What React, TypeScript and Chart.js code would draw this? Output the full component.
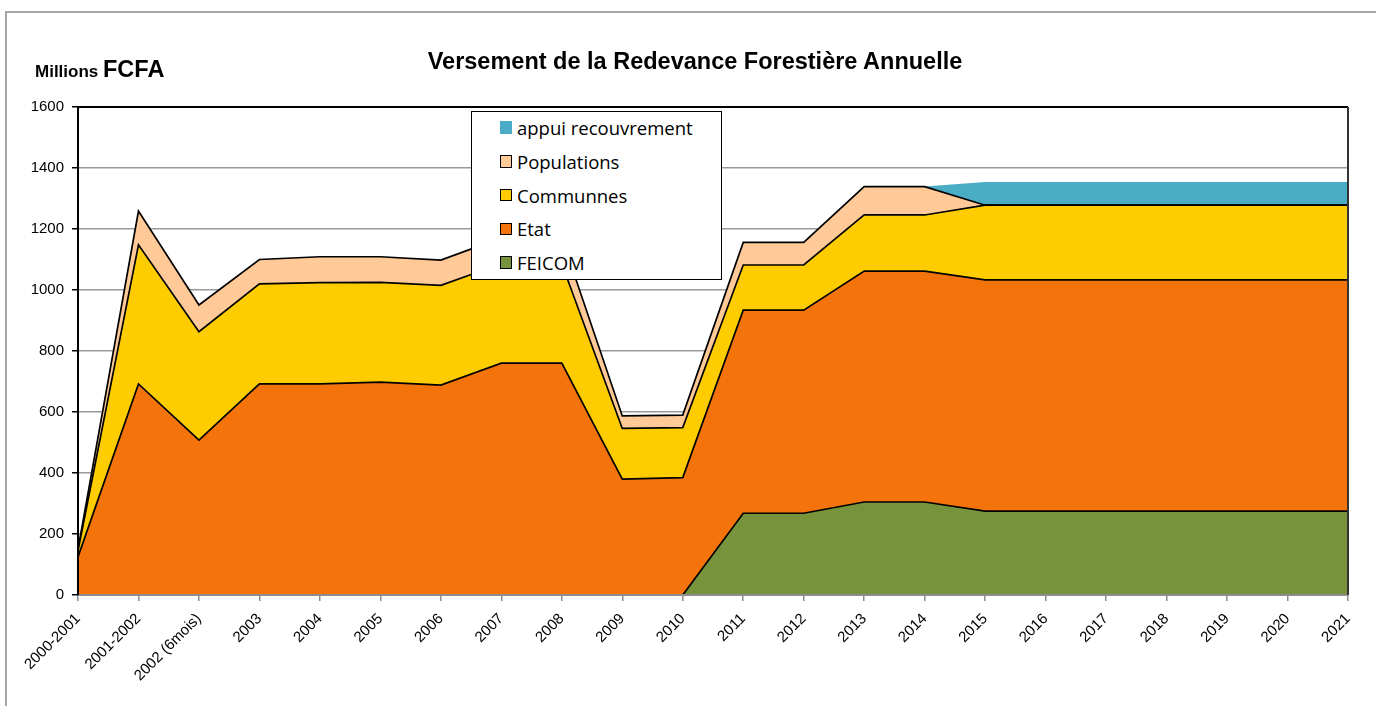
import React, { useEffect, useRef } from "react";
import { Chart, registerables } from "chart.js";

Chart.register(...registerables);

const categories = [
  "2000-2001", "2001-2002", "2002 (6mois)", "2003", "2004", "2005", "2006", "2007", "2008",
  "2009", "2010", "2011", "2012", "2013", "2014", "2015", "2016", "2017", "2018", "2019", "2020", "2021",
];

const feicom = [0, 0, 0, 0, 0, 0, 0, 0, 0, 0, 0, 268, 268, 305, 305, 275, 275, 275, 275, 275, 275, 275];
const etat = [125, 692, 508, 692, 692, 698, 688, 760, 760, 380, 385, 666, 666, 757, 757, 758, 758, 758, 758, 758, 758, 758];
const communnes = [20, 456, 355, 328, 332, 327, 327, 326, 326, 166, 164, 148, 148, 184, 184, 245, 245, 245, 245, 245, 245, 245];
const populations = [5, 111, 88, 80, 85, 84, 83, 85, 85, 41, 41, 74, 74, 93, 93, 0, 0, 0, 0, 0, 0, 0];
const appuiRecouvrement = [0, 0, 0, 0, 0, 0, 0, 0, 0, 0, 0, 0, 0, 0, 0, 76, 76, 76, 76, 76, 76, 76];

const yTicks = [0, 200, 400, 600, 800, 1000, 1200, 1400, 1600];

const seriesNames = ["FEICOM", "Etat", "Communnes", "Populations", "appui recouvrement"];
const seriesColors = ["#77933C", "#F4730B", "#FFCC00", "#FFCA97", "#4BACC6"];
const seriesData = [feicom, etat, communnes, populations, appuiRecouvrement];

const titleText = "Versement de la Redevance Forestière Annuelle";

export default function App() {
  const canvasRef = useRef<HTMLCanvasElement>(null);

  useEffect(() => {
    document.body.style.margin = "0";
    document.body.style.overflow = "hidden";
    const frame = {
      id: "plotFrame",
      afterDatasetsDraw(chart: any) {
        const { ctx, chartArea } = chart;
        ctx.save();
        ctx.strokeStyle = "#8c8c8c";
        ctx.lineWidth = 2;
        ctx.beginPath();
        ctx.moveTo(chartArea.left, chartArea.bottom);
        ctx.lineTo(chartArea.right, chartArea.bottom);
        ctx.stroke();
        ctx.strokeStyle = "#000";
        ctx.beginPath();
        ctx.moveTo(chartArea.left, chartArea.bottom);
        ctx.lineTo(chartArea.left, chartArea.top);
        ctx.lineTo(chartArea.right, chartArea.top);
        ctx.stroke();
        ctx.strokeStyle = "#333";
        ctx.beginPath();
        ctx.moveTo(chartArea.right, chartArea.top);
        ctx.lineTo(chartArea.right, chartArea.bottom);
        ctx.stroke();
        ctx.restore();
      },
    };

    const datasets = seriesData.map((d, i) => ({
      label: seriesNames[i],
      data: d,
      backgroundColor: seriesColors[i],
      borderColor: i === 4 ? seriesColors[i] : "#000",
      borderWidth: i === 4 ? 0 : 1.7,
      fill: i === 0 ? "origin" : "-1",
      pointRadius: 0,
      tension: 0,
    }));

    const chart = new Chart(canvasRef.current as HTMLCanvasElement, {
      type: "line",
      data: { labels: categories, datasets },
      options: {
        responsive: false,
        animation: false,
        devicePixelRatio: 1,
        layout: { padding: { left: 8, right: 28, top: 107, bottom: 11 } },
        plugins: { legend: { display: false }, tooltip: { enabled: false }, title: { display: false } },
        scales: {
          x: {
            grid: { drawOnChartArea: false, drawTicks: true, tickLength: 6, color: "#8c8c8c", lineWidth: 1.5 },
            border: { color: "#8c8c8c", width: 2 },
            ticks: {
              autoSkip: false,
              maxRotation: 45,
              minRotation: 45,
              color: "#000",
              font: { family: "Liberation Sans", size: 15 },
              padding: 9,
            },
            afterFit: (s: any) => {
              s.height = 100;
            },
          },
          y: {
            stacked: true,
            min: 0,
            max: 1600,
            afterBuildTicks: (s: any) => {
              s.ticks = yTicks.map((v) => ({ value: v }));
            },
            grid: { color: "#9a9a9a", lineWidth: 1.5, tickColor: "#000", tickLength: 6 },
            border: { color: "#000", width: 2 },
            ticks: {
              color: "#000",
              font: { family: "Liberation Sans", size: 15 },
              padding: 8,
              callback: (v: any) => String(v),
            },
            afterFit: (s: any) => {
              s.width = 70;
            },
          },
        },
      },
      plugins: [frame],
    });
    return () => chart.destroy();
  }, []);

  const legendOrder = [4, 3, 2, 1, 0];

  return (
    <div style={{ position: "relative", width: 1376, height: 706, overflow: "hidden", background: "#fff" }}>
      <div
        style={{
          position: "absolute",
          left: 5,
          top: 11,
          width: 1420,
          height: 740,
          border: "2px solid #a6a6a6",
          boxSizing: "border-box",
        }}
      />
      <canvas ref={canvasRef} width={1376} height={706} style={{ position: "absolute", left: 0, top: 0 }} />
      <div
        style={{
          position: "absolute",
          left: 695,
          top: 47,
          transform: "translateX(-50%)",
          whiteSpace: "nowrap",
          fontFamily: "Liberation Sans",
          fontWeight: "bold",
          fontSize: 23.5,
          lineHeight: "28px",
          color: "#000",
        }}
      >
        {titleText}
      </div>
      <div
        style={{
          position: "absolute",
          left: 35,
          top: 55,
          whiteSpace: "nowrap",
          fontFamily: "Liberation Sans",
          fontWeight: "bold",
          lineHeight: "28px",
          color: "#000",
        }}
      >
        <span style={{ fontSize: 17 }}>Millions </span>
        <span style={{ fontSize: 23.5 }}>FCFA</span>
      </div>
      <div
        style={{
          position: "absolute",
          left: 471,
          top: 111,
          width: 251,
          height: 169,
          border: "1.5px solid #000",
          boxSizing: "border-box",
          background: "#fff",
        }}
      >
        {legendOrder.map((idx, row) => (
          <div
            key={idx}
            style={{
              position: "absolute",
              left: 27.5,
              top: 1.5 + row * 33.8,
              height: 28,
              display: "flex",
              alignItems: "center",
              fontFamily: "'Open Sans'",
              fontSize: 18.5,
              color: "#000",
              whiteSpace: "nowrap",
            }}
          >
            <span
              style={{
                display: "inline-block",
                width: 12.5,
                height: 12.5,
                background: seriesColors[idx],
                border: idx === 4 ? "none" : "1.5px solid #000",
                boxSizing: "border-box",
                marginRight: 5,
              }}
            />
            <span>{seriesNames[idx]}</span>
          </div>
        ))}
      </div>
    </div>
  );
}
